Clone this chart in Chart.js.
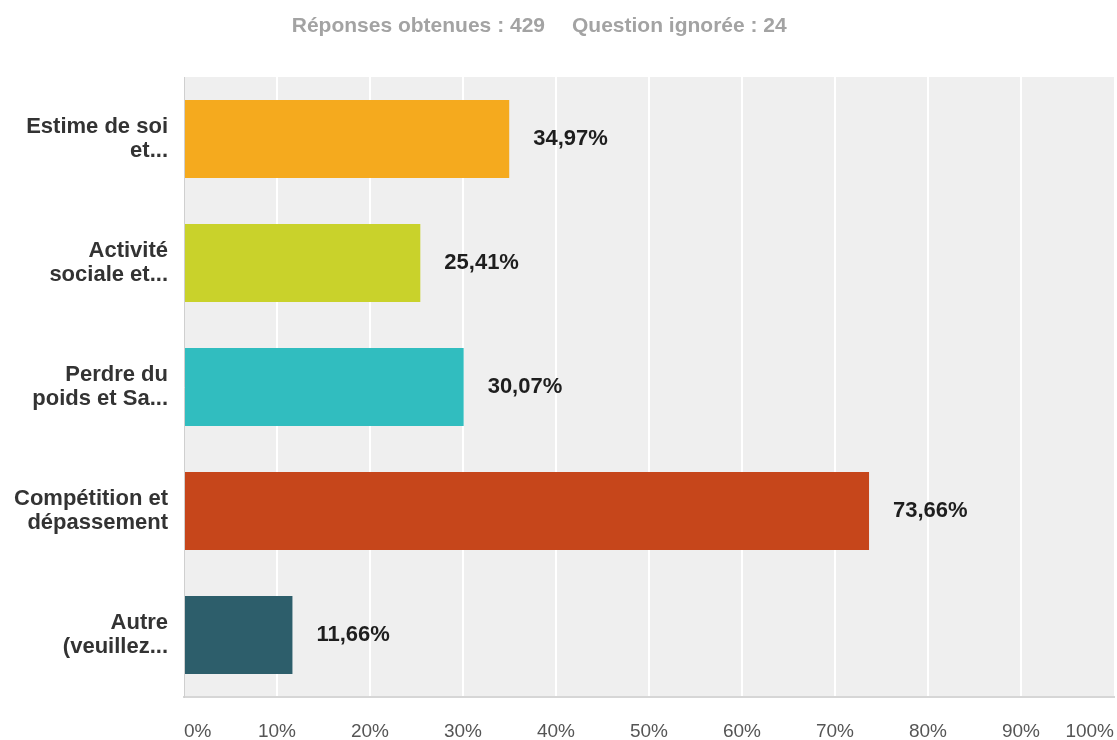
<!DOCTYPE html>
<html>
<head>
<meta charset="utf-8">
<script src="https://cdn.jsdelivr.net/npm/chart.js@4"></script>
<style>
  html, body { margin: 0; padding: 0; background: #fff; }
  #wrap { width: 1117px; height: 740px; }
</style>
</head>
<body>
<div id="wrap"><canvas id="graph"></canvas></div>
<script>
// data
var labels = [
  ["Estime de soi", "et..."],
  ["Activité", "sociale et..."],
  ["Perdre du", "poids et Sa..."],
  ["Compétition et", "dépassement"],
  ["Autre", "(veuillez..."]
];
var values = [34.97, 25.41, 30.07, 73.66, 11.66];
var valueLabels = ["34,97%", "25,41%", "30,07%", "73,66%", "11,66%"];
var barColors = ["#f5aa1e", "#c9d22b", "#31bdbf", "#c6461b", "#2d5e6b"];
var answered = "Réponses obtenues : 429";
var skipped = "Question ignorée : 24";

var FONT = "Arial, 'Liberation Sans', sans-serif";

// gray plot background
var plotBg = {
  id: "plotBg",
  beforeDraw: function(chart) {
    var a = chart.chartArea, ctx = chart.ctx;
    ctx.save();
    ctx.fillStyle = "#efefef";
    ctx.fillRect(a.left, a.top, a.right - a.left, a.bottom - a.top);
    ctx.restore();
  }
};

// percent labels next to bars + header line
var barText = {
  id: "barText",
  afterDatasetsDraw: function(chart) {
    var ctx = chart.ctx;
    var meta = chart.getDatasetMeta(0);
    ctx.save();
    ctx.font = "bold 22px " + FONT;
    ctx.fillStyle = "#1e1e1e";
    ctx.textAlign = "left";
    ctx.textBaseline = "middle";
    meta.data.forEach(function(bar, i) {
      ctx.fillText(valueLabels[i], bar.x + 24, bar.y);
    });
    ctx.restore();
  },
  afterDraw: function(chart) {
    var ctx = chart.ctx;
    ctx.save();
    ctx.font = "bold 21px " + FONT;
    ctx.fillStyle = "#a3a3a3";
    ctx.textBaseline = "middle";
    ctx.textAlign = "right";
    ctx.fillText(answered, 545, 26);
    ctx.textAlign = "left";
    ctx.fillText(skipped, 572, 26);
    ctx.restore();
  }
};

var myChart = new Chart(document.getElementById("graph"), {
  type: "bar",
  data: {
    labels: labels,
    datasets: [{
      data: values,
      backgroundColor: barColors,
      borderWidth: 0,
      categoryPercentage: 1,
      barPercentage: 0.63
    }]
  },
  plugins: [plotBg, barText],
  options: {
    indexAxis: "y",
    responsive: true,
    maintainAspectRatio: false,
    animation: false,
    layout: { padding: { top: 77, right: 3, left: 0, bottom: 0 } },
    plugins: {
      legend: { display: false },
      tooltip: { enabled: false }
    },
    scales: {
      x: {
        min: 0,
        max: 100,
        afterFit: function(scale) {
          scale.height = 43;
          scale.paddingLeft = 0;
          scale.paddingRight = 0;
        },
        grid: {
          color: function(c) { return (c.tick && c.tick.value > 0 && c.tick.value < 100) ? "#ffffff" : "rgba(0,0,0,0)"; },
          lineWidth: 2,
          drawTicks: false
        },
        border: { display: true, color: "#d6d6d6", width: 2 },
        ticks: {
          stepSize: 10,
          align: "inner",
          padding: 23,
          color: "#555",
          font: { family: FONT, size: 19 },
          callback: function(v) { return v + "%"; }
        }
      },
      y: {
        afterFit: function(scale) { scale.width = 184; },
        grid: { display: false, drawTicks: false },
        border: { display: true, color: "#cfcfcf", width: 1 },
        ticks: {
          padding: 16,
          color: "#333",
          font: { family: FONT, size: 22, weight: "bold", lineHeight: 1.1 }
        }
      }
    }
  }
});
</script>
</body>
</html>
